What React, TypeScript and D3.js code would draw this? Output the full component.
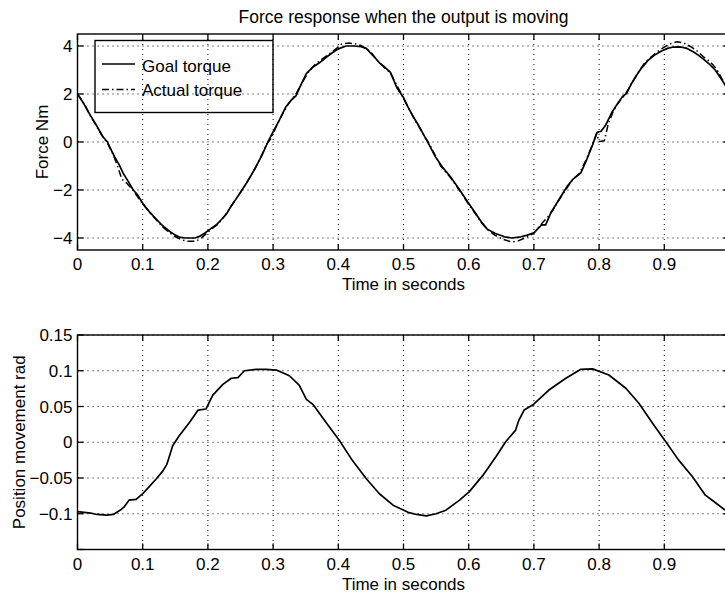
import React from "react";
import * as d3 from "d3";

// ---------- data ----------
const chartTitle = "Force response when the output is moving";
const xLabel = "Time in seconds";
const topYLabel = "Force Nm";
const bottomYLabel = "Position movement rad";
const legendLabels = ["Goal torque", "Actual torque"];

const xTicks = [0, 0.1, 0.2, 0.3, 0.4, 0.5, 0.6, 0.7, 0.8, 0.9, 1];
const xTickLabels = ["0", "0.1", "0.2", "0.3", "0.4", "0.5", "0.6", "0.7", "0.8", "0.9", ""];
const topYTicks = [-4, -2, 0, 2, 4];
const topYTickLabels = ["\u22124", "\u22122", "0", "2", "4"];
const bottomYTicks = [-0.15, -0.1, -0.05, 0, 0.05, 0.1, 0.15];
const bottomYTickLabels = ["", "\u22120.1", "\u22120.05", "0", "0.05", "0.1", "0.15"];

const goalTime = [
  0.0, 0.01, 0.02, 0.029, 0.038, 0.046, 0.052, 0.057, 0.064, 0.07, 0.078, 0.085, 0.092, 0.1,
  0.11, 0.121, 0.131, 0.141, 0.15, 0.156, 0.165, 0.18, 0.188, 0.195, 0.204, 0.213, 0.22,
  0.228, 0.235, 0.243, 0.251, 0.259, 0.266, 0.274, 0.283, 0.292, 0.3, 0.31, 0.32, 0.328,
  0.335, 0.343, 0.351, 0.36, 0.371, 0.381, 0.392, 0.4, 0.412, 0.425, 0.435, 0.443, 0.449,
  0.455, 0.463, 0.47, 0.48, 0.49, 0.5, 0.507, 0.515, 0.523, 0.531, 0.54, 0.549, 0.56, 0.572,
  0.585, 0.598, 0.61, 0.62, 0.628, 0.64, 0.655, 0.666, 0.68, 0.69, 0.7, 0.712, 0.718, 0.726,
  0.735, 0.743, 0.751, 0.76, 0.768, 0.772, 0.78, 0.79, 0.797, 0.803, 0.81, 0.82, 0.829,
  0.836, 0.842, 0.85, 0.858, 0.865, 0.875, 0.885, 0.895, 0.905, 0.912, 0.925, 0.935, 0.945,
  0.952, 0.96, 0.97, 0.978, 0.988, 0.995, 1.0,
];
const goalTorque = [
  2.0, 1.58, 1.1, 0.7, 0.25, 0.0, -0.35, -0.62, -0.95, -1.3, -1.65, -1.98, -2.2, -2.55,
  -2.9, -3.22, -3.5, -3.72, -3.88, -3.96, -4.0, -4.0, -3.92, -3.8, -3.62, -3.45, -3.25,
  -3.02, -2.7, -2.38, -2.05, -1.72, -1.4, -1.02, -0.55, 0.0, 0.42, 0.93, 1.48, 1.75,
  1.92, 2.4, 2.85, 3.1, 3.3, 3.52, 3.74, 3.88, 4.0, 4.0, 3.97, 3.9, 3.72,
  3.55, 3.3, 3.15, 2.9, 2.25, 1.85, 1.45, 1.05, 0.7, 0.3, -0.15, -0.62, -1.05, -1.45,
  -1.95, -2.48, -2.95, -3.35, -3.62, -3.8, -3.95, -4.0, -3.95, -3.88, -3.78, -3.45, -3.45, -2.95,
  -2.55, -2.2, -1.85, -1.55, -1.38, -1.29, -0.8, -0.12, 0.4, 0.45, 0.7, 1.25, 1.63,
  1.9, 2.02, 2.45, 2.8, 3.08, 3.4, 3.62, 3.78, 3.9, 3.95, 3.96, 3.9, 3.75,
  3.62, 3.45, 3.22, 3.0, 2.6, 2.3, 2.05,
];

const actualTime = [
  0.0, 0.01, 0.02, 0.03, 0.04, 0.046, 0.055, 0.062, 0.068, 0.075, 0.085, 0.1, 0.11, 0.121,
  0.131, 0.141, 0.15, 0.16, 0.17, 0.18, 0.188, 0.195, 0.204, 0.213, 0.222, 0.23, 0.24, 0.25,
  0.259, 0.27, 0.28, 0.29, 0.296, 0.305, 0.315, 0.325, 0.335, 0.345, 0.355, 0.365, 0.375,
  0.385, 0.395, 0.405, 0.415, 0.425, 0.435, 0.443, 0.45, 0.46, 0.47, 0.48, 0.49, 0.5, 0.51,
  0.52, 0.53, 0.54, 0.549, 0.557, 0.572, 0.585, 0.598, 0.61, 0.62, 0.63, 0.64, 0.652, 0.666,
  0.676, 0.69, 0.7, 0.712, 0.722, 0.73, 0.74, 0.751, 0.76, 0.77, 0.78, 0.79, 0.796, 0.8,
  0.808, 0.814, 0.822, 0.83, 0.84, 0.85, 0.86, 0.87, 0.88, 0.89, 0.9, 0.91, 0.92, 0.93,
  0.94, 0.95, 0.96, 0.97, 0.98, 0.99, 1.0,
];
const actualTorque = [
  2.0, 1.6, 1.08, 0.62, 0.18, -0.05, -0.55, -1.05, -1.55, -1.7, -2.0, -2.58, -2.92, -3.25,
  -3.55, -3.78, -3.95, -4.08, -4.14, -4.14, -4.05, -3.88, -3.66, -3.48, -3.22, -2.9, -2.5, -2.1,
  -1.72, -1.22, -0.7, -0.1, 0.12, 0.65, 1.2, 1.65, 2.0, 2.5, 2.95, 3.25, 3.45,
  3.65, 3.85, 4.08, 4.12, 4.1, 4.02, 3.88, 3.75, 3.38, 3.12, 2.88, 2.35, 1.82, 1.3,
  0.8, 0.35, -0.1, -0.58, -1.0, -1.48, -1.98, -2.52, -2.98, -3.38, -3.68, -3.88, -4.05, -4.17,
  -4.12, -3.95, -3.8, -3.4, -3.1, -2.8, -2.35, -1.9, -1.55, -1.3, -0.75, -0.1, 0.35, 0.02,
  0.05, 0.75, 1.3, 1.65, 1.98, 2.45, 2.9, 3.3, 3.55, 3.78, 3.95, 4.1, 4.18, 4.12,
  3.98, 3.8, 3.55, 3.35, 3.05, 2.55, 2.05,
];

const positionTime = [
  0.0, 0.01, 0.02, 0.03, 0.045, 0.055, 0.067, 0.072, 0.079, 0.09, 0.1, 0.11, 0.121, 0.131,
  0.137, 0.146, 0.156, 0.172, 0.185, 0.197, 0.2075, 0.223, 0.236, 0.246, 0.256, 0.274, 0.289,
  0.305, 0.325, 0.34, 0.351, 0.361, 0.381, 0.402, 0.422, 0.443, 0.463, 0.484, 0.507, 0.52,
  0.535, 0.55, 0.565, 0.586, 0.601, 0.622, 0.642, 0.657, 0.672, 0.677, 0.685, 0.698, 0.723,
  0.749, 0.772, 0.79, 0.815, 0.841, 0.861, 0.882, 0.902, 0.922, 0.943, 0.963, 0.979, 0.992, 1.0,
];
const positionRad = [
  -0.097, -0.098, -0.099, -0.101, -0.102, -0.101, -0.094, -0.09, -0.081, -0.08, -0.072, -0.062,
  -0.051, -0.04, -0.031, -0.005, 0.009, 0.028, 0.045, 0.0465, 0.066, 0.081, 0.0895, 0.0905, 0.1,
  0.102, 0.102, 0.101, 0.093, 0.08, 0.06, 0.053, 0.028, 0.002, -0.026, -0.051, -0.072, -0.088,
  -0.098, -0.101, -0.103, -0.1, -0.095, -0.081, -0.069, -0.046, -0.02, 0.001, 0.017, 0.031, 0.045,
  0.052, 0.073, 0.0895, 0.102, 0.1026, 0.094, 0.0755, 0.0545, 0.0266, 0.001, -0.025, -0.048,
  -0.074, -0.085, -0.094, -0.097,
];

// ---------- layout ----------
const W = 725;
const H = 595;
const FONT = "'Liberation Sans', Arial, Helvetica, sans-serif";
const FS = 17;

const xScale = d3.scaleLinear().domain([0, 1]).range([77.5, 729.5]);
const yTop = d3.scaleLinear().domain([-4.5, 4.5]).range([250, 34]);
const yBot = d3.scaleLinear().domain([-0.15, 0.15]).range([549.5, 335]);

type Pt = [number, number];
const zip = (a: number[], b: number[]): Pt[] => a.map((t, i) => [t, b[i]]);

function Axes({
  y,
  yTicks,
  yTickLabels,
  yLabel,
  yLabelX,
}: {
  y: d3.ScaleLinear<number, number>;
  yTicks: number[];
  yTickLabels: string[];
  yLabel: string;
  yLabelX: number;
}) {
  const [x0, x1] = xScale.range();
  const [yb, yt] = y.range();
  const tickLen = 6;
  return (
    <g>
      {xTicks.map((t) => (
        <line
          key={"gx" + t}
          x1={xScale(t)}
          x2={xScale(t)}
          y1={yt}
          y2={yb}
          stroke="#000"
          strokeWidth={1}
          strokeDasharray="1,4"
        />
      ))}
      {yTicks.map((t) => (
        <line
          key={"gy" + t}
          x1={x0}
          x2={x1}
          y1={y(t)}
          y2={y(t)}
          stroke="#000"
          strokeWidth={1}
          strokeDasharray="1,4"
        />
      ))}
      {xTicks.map((t) => (
        <g key={"tx" + t}>
          <line x1={xScale(t)} x2={xScale(t)} y1={yb} y2={yb - tickLen} stroke="#000" strokeWidth={1.3} />
          <line x1={xScale(t)} x2={xScale(t)} y1={yt} y2={yt + tickLen} stroke="#000" strokeWidth={1.3} />
        </g>
      ))}
      {yTicks.map((t) => (
        <g key={"ty" + t}>
          <line x1={x0} x2={x0 + tickLen} y1={y(t)} y2={y(t)} stroke="#000" strokeWidth={1.3} />
          <line x1={x1} x2={x1 - tickLen} y1={y(t)} y2={y(t)} stroke="#000" strokeWidth={1.3} />
        </g>
      ))}
      <rect x={x0} y={yt} width={x1 - x0} height={yb - yt} fill="none" stroke="#000" strokeWidth={1.4} />
      {xTicks.map((t, i) =>
        xTickLabels[i] ? (
          <text
            key={"lx" + t}
            x={xScale(t)}
            y={yb + 20}
            textAnchor="middle"
            fontFamily={FONT}
            fontSize={FS}
            fill="#000"
          >
            {xTickLabels[i]}
          </text>
        ) : null
      )}
      {yTicks.map((t, i) =>
        yTickLabels[i] ? (
          <text
            key={"ly" + t}
            x={x0 - 5}
            y={y(t) + 6}
            textAnchor="end"
            fontFamily={FONT}
            fontSize={FS}
            fill="#000"
          >
            {yTickLabels[i]}
          </text>
        ) : null
      )}
      <text
        x={(x0 + x1) / 2}
        y={yb + 40}
        textAnchor="middle"
        fontFamily={FONT}
        fontSize={FS}
        fill="#000"
      >
        {xLabel}
      </text>
      <text
        transform={`translate(${yLabelX},${(yt + yb) / 2}) rotate(-90)`}
        textAnchor="middle"
        fontFamily={FONT}
        fontSize={FS}
        fill="#000"
      >
        {yLabel}
      </text>
    </g>
  );
}

export default function App() {
  const lineTop = d3
    .line<Pt>()
    .x((d) => xScale(d[0]))
    .y((d) => yTop(d[1]));
  const lineBot = d3
    .line<Pt>()
    .x((d) => xScale(d[0]))
    .y((d) => yBot(d[1]));

  const goalPath = lineTop(zip(goalTime, goalTorque)) || "";
  const actualPath = lineTop(zip(actualTime, actualTorque)) || "";
  const posPath = lineBot(zip(positionTime, positionRad)) || "";

  const dashDot = "7,3,1.5,3";

  return (
    <div style={{ position: "absolute", left: 0, top: 0, width: W, height: H, background: "#fff" }}>
      <svg width={W} height={H} viewBox={`0 0 ${W} ${H}`} style={{ display: "block" }}>
        <rect x={0} y={0} width={W} height={H} fill="#fff" />
        <text
          x={(xScale.range()[0] + xScale.range()[1]) / 2}
          y={23}
          textAnchor="middle"
          fontFamily={FONT}
          fontSize={17.5}
          fill="#000"
        >
          {chartTitle}
        </text>

        <Axes y={yTop} yTicks={topYTicks} yTickLabels={topYTickLabels} yLabel={topYLabel} yLabelX={48} />
        <Axes y={yBot} yTicks={bottomYTicks} yTickLabels={bottomYTickLabels} yLabel={bottomYLabel} yLabelX={25} />

        <path d={goalPath} fill="none" stroke="#000" strokeWidth={1.7} strokeLinejoin="round" />
        <path
          d={actualPath}
          fill="none"
          stroke="#000"
          strokeWidth={1.5}
          strokeDasharray={dashDot}
          strokeLinejoin="round"
        />
        <path d={posPath} fill="none" stroke="#000" strokeWidth={1.7} strokeLinejoin="round" />

        <rect x={95} y={40.5} width={178} height={72} fill="none" stroke="#000" strokeWidth={1.4} />
        <line x1={102} x2={135} y1={64} y2={64} stroke="#000" strokeWidth={1.4} />
        <text x={142} y={71.5} fontFamily={FONT} fontSize={FS} fill="#000">
          {legendLabels[0]}
        </text>
        <line x1={102} x2={135} y1={89.5} y2={89.5} stroke="#000" strokeWidth={1.4} strokeDasharray={dashDot} />
        <text x={142} y={95.5} fontFamily={FONT} fontSize={FS} fill="#000">
          {legendLabels[1]}
        </text>
      </svg>
    </div>
  );
}
